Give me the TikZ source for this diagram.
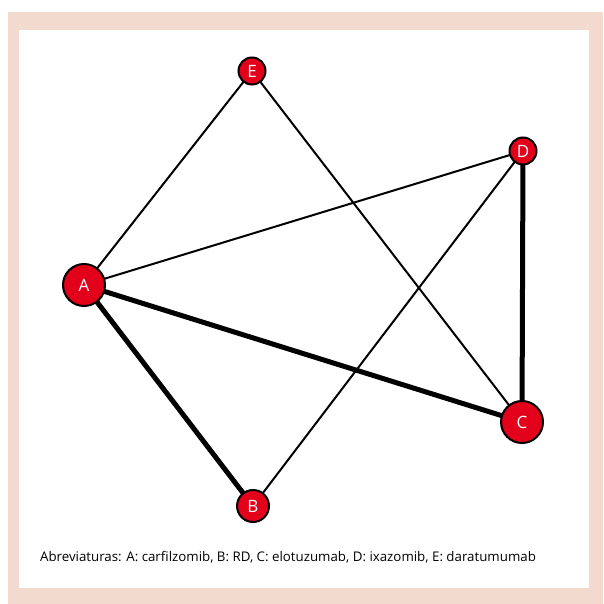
\documentclass[tikz,border=0pt]{standalone}
\usepackage{fontspec}
\setmainfont{Open Sans}
\usetikzlibrary{backgrounds}
\definecolor{frame}{RGB}{242,218,207}
\definecolor{nodered}{RGB}{226,0,26}
\tikzset{
  vert/.style={circle,draw=black,line width=2pt,fill=nodered,text=white,inner sep=0pt,font=\fontsize{17}{17}\selectfont},
  big/.style={vert,minimum size=42pt},
  mid/.style={vert,minimum size=32pt},
  small/.style={vert,minimum size=27pt},
  thin/.style={line width=2pt},
  thick/.style={line width=5pt}
}
\begin{document}
\begin{tikzpicture}[x=1pt,y=-1pt]
\useasboundingbox (0,0) rectangle (603,604);
\node[big] (A) at (84,285) {A};
\node[mid] (B) at (253,506) {B};
\node[big] (C) at (522,422) {C};
\node[small] (D) at (523,151) {D};
\node[small] (E) at (252,71) {E};
\begin{scope}[on background layer]
\fill[frame] (8,12) rectangle (603,604);
\fill[white] (19,30) rectangle (589,588);
\draw[thin] (A.center) -- (E.center);
\draw[thin] (A.center) -- (D.center);
\draw[thin] (E.center) -- (C.center);
\draw[thin] (D.center) -- (B.center);
\draw[thick] (A.center) -- (C.center);
\draw[thick] (A.center) -- (B.center);
\draw[thick] (D.center) -- (C.center);
\end{scope}
\node[font=\fontsize{13.3}{15}\selectfont] (cap) at (288,557) {Abreviaturas: A: carfilzomib, B: RD, C: elotuzumab, D: ixazomib, E: daratumumab};
\end{tikzpicture}
\end{document}
